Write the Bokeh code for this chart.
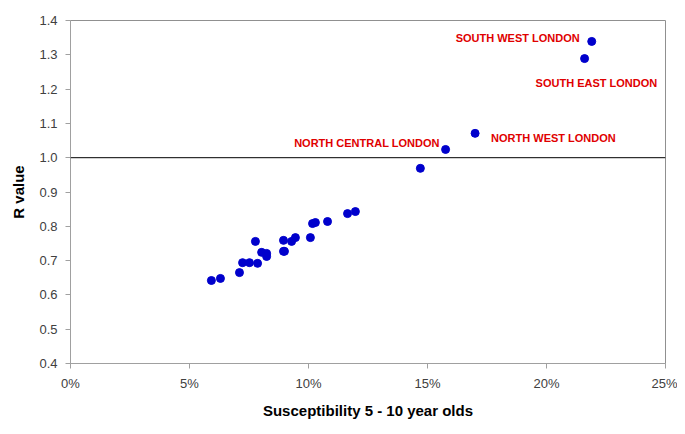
from bokeh.plotting import figure
from bokeh.models import ColumnDataSource, LabelSet, Span, NumeralTickFormatter, FixedTicker, Range1d
from bokeh.core.properties import value
from bokeh.embed import file_html
from bokeh.resources import INLINE

# Susceptibility of 5-10 year olds (fraction) and R value
susceptibility = [0.0592, 0.0630, 0.0710, 0.0723, 0.0752, 0.0777, 0.0786, 0.0803,
                  0.0824, 0.0824, 0.0895, 0.0899, 0.0895, 0.0929, 0.0945, 0.1008,
                  0.1017, 0.1029, 0.1080, 0.1164, 0.1197, 0.1470, 0.1576, 0.1700,
                  0.2160, 0.2190]
r_value = [0.642, 0.648, 0.665, 0.694, 0.694, 0.756, 0.692, 0.724,
           0.721, 0.712, 0.727, 0.727, 0.759, 0.756, 0.767, 0.767,
           0.808, 0.811, 0.814, 0.837, 0.843, 0.969, 1.024, 1.071,
           1.289, 1.339]

label_names = ["SOUTH WEST LONDON", "SOUTH EAST LONDON", "NORTH CENTRAL LONDON", "NORTH WEST LONDON"]
label_x = [0.2190, 0.2160, 0.1576, 0.1700]
label_y = [1.339, 1.289, 1.024, 1.071]
label_align = ["right", "left", "right", "left"]
label_dx = [-12, -49, -6, 16]
label_dy = [3, -24, 6, -5]

x_ticks = [0, 0.05, 0.10, 0.15, 0.20, 0.25]
y_ticks = [0.4, 0.5, 0.6, 0.7, 0.8, 0.9, 1.0, 1.1, 1.2, 1.3, 1.4]

p = figure(output_backend="svg", toolbar_location=None,
           frame_width=595, frame_height=343,
           min_border_left=70, min_border_right=12, min_border_top=20, min_border_bottom=63,
           x_range=Range1d(0, 0.25), y_range=Range1d(0.4, 1.4))
p.width = 677
p.height = 426

p.background_fill_color = "white"
p.border_fill_color = "white"
p.outline_line_color = "#909090"
p.xgrid.visible = False
p.ygrid.visible = False

for ax in (p.xaxis, p.yaxis):
    ax.axis_line_color = "#a0a0a0"
    ax.major_tick_line_color = "#a0a0a0"
    ax.minor_tick_line_color = None
    ax.major_tick_out = 5
    ax.major_tick_in = 0
    ax.major_label_text_font = "Liberation Sans"
    ax.major_label_text_font_size = "13px"
    ax.major_label_text_color = "#404040"
    ax.axis_label_text_font = "Liberation Sans"
    ax.axis_label_text_font_size = "15px"
    ax.axis_label_text_font_style = "bold"
    ax.axis_label_text_color = "black"

p.xaxis.ticker = FixedTicker(ticks=x_ticks)
p.yaxis.ticker = FixedTicker(ticks=y_ticks)
p.xaxis.formatter = NumeralTickFormatter(format="0%")
p.yaxis.formatter = NumeralTickFormatter(format="0.0")
p.xaxis.axis_label = "Susceptibility 5 - 10 year olds"
p.yaxis.axis_label = "R value"
p.xaxis.major_label_standoff = 7
p.xaxis.axis_label_standoff = 8
p.yaxis.major_label_standoff = 8
p.yaxis.axis_label_standoff = 9

p.add_layout(Span(location=1.0, dimension="width", line_color="black", line_width=1))

src = ColumnDataSource(dict(x=susceptibility, y=r_value))
p.scatter("x", "y", source=src, size=8, fill_color="#0000CC", line_color="#0000CC")

lsrc = ColumnDataSource(dict(x=label_x, y=label_y, text=label_names, align=label_align,
                             dx=label_dx, dy=label_dy))
labels = LabelSet(x="x", y="y", text="text", source=lsrc, x_offset="dx", y_offset="dy",
                  text_align="align", text_baseline="middle",
                  text_font=value("Liberation Sans"), text_font_size="11px",
                  text_font_style="bold", text_color="#E00000")
p.add_layout(labels)

open("out.html", "w").write(file_html(p, INLINE))
